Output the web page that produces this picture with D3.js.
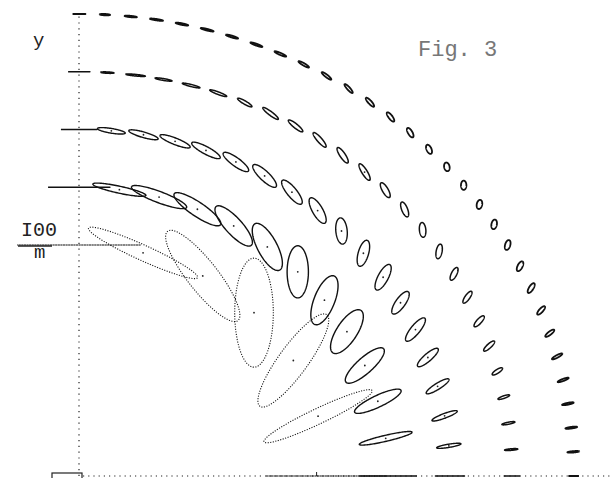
<!DOCTYPE html>
<html>
<head>
<meta charset="utf-8">
<script src="https://cdn.jsdelivr.net/npm/d3@7"></script>
<style>
  html, body { margin: 0; padding: 0; background: #fff; }
  svg { display: block; }
</style>
</head>
<body>
<svg id="fig"></svg>
<script>
// rings of test points, radius in metres
const RADII = [100, 125, 150, 175, 200]

// ring r = 100 m : bearing (deg), semi-major (m), semi-minor (m), tilt (deg)
const ang100 = [0, 15, 30, 45, 60, 75, 90]
const maj100 = [24.5, 24.5, 24, 23.6, 24, 24.5, 25]
const min100 = [0, 3.3, 6, 7.8, 6.3, 3.3, 0]
const tilt100 = [0, 27, 56, 90, 126, 154, 180]

// ring r = 125 m
const ang125 = [0, 7.5, 15, 22.5, 30, 37.5, 45, 52.5, 60, 67.5, 75, 82.5, 90]
const maj125 = [11.5, 11, 10.5, 10.5, 10.8, 11.2, 11.3, 11.2, 11, 11.5, 12, 11, 12.5]
const min125 = [0, 1.3, 2.5, 3.3, 4.2, 4.2, 4.3, 4, 3.5, 3, 2.4, 1.5, 0]
const tilt125 = [0, 14, 27, 44, 59, 70, 90, 116, 130, 144, 158, 167, 180]

// ring r = 150 m
const ang150 = [0, 5, 10, 15, 20, 25, 30, 35, 40, 45, 50, 55, 60, 65, 70, 75, 80, 85, 90]
const maj150 = [6, 5, 5.5, 5.5, 5.6, 6.2, 5.7, 6.1, 5.8, 5.7, 6.2, 6.4, 6.6, 6.4, 6.6, 6.6, 6.2, 5.7, 7.3]
const min150 = [0, 0.7, 1, 1.3, 1.6, 1.9, 2, 2.1, 2.1, 2.3, 2.1, 2, 2, 1.8, 1.6, 1.4, 1.2, 1, 0]
const tilt150 = [0, 10, 22, 34, 43, 53, 57, 64, 75, 95, 118, 127, 134, 142, 150, 157, 163, 170, 180]

// ring r = 175 m
const ang175 = [0, 3.75, 7.5, 11.25, 15, 18.75, 22.5, 26.25, 30, 33.75, 37.5, 41.25, 45,
  48.75, 52.5, 56.25, 60, 63.75, 67.5, 71.25, 75, 78.75, 82.5, 86.25, 90]
const maj175 = [3.2, 2.7, 2.7, 2.5, 2.5, 3, 3, 3, 3, 3.2, 3.2, 3.4, 3.6,
  4.1, 3.9, 4, 3.8, 4, 3.4, 3.7, 3.7, 3.5, 4, 2.7, 4.4]
const min175 = [0, 0.35, 0.45, 0.55, 0.8, 0.9, 1, 1, 1.1, 1.2, 1.3, 1.2, 1.2,
  1.1, 1.1, 1, 0.9, 0.8, 0.7, 0.55, 0.45, 0.4, 0.35, 0.3, 0]
const tilt175 = [0, 5, 12, 20, 35, 45, 50, 57, 65, 80, 95, 110, 118,
  120, 122, 129, 139, 141, 148, 158, 165, 170, 174, 177, 180]

// ring r = 200 m
const ang200 = [0, 3, 6, 9, 12, 15, 18, 21, 24, 27, 30, 33, 36, 39, 42, 45,
  48, 51, 54, 57, 60, 63, 66, 69, 72, 75, 78, 81, 84, 87, 90]
const maj200 = [2, 2.4, 2.4, 2.4, 2.4, 2.4, 2.3, 2.3, 2.4, 2.3, 2.2, 2.1, 2, 2, 1.9, 2.1,
  2.3, 2.4, 2.5, 2.5, 2.5, 2.5, 2.6, 2.6, 2.6, 2.7, 2.6, 2.7, 2.5, 2.1, 2.6]
const min200 = [0, 0.3, 0.35, 0.4, 0.45, 0.55, 0.7, 0.8, 0.9, 1, 1.05, 1.1, 1.1, 1.1, 1.1, 1,
  0.9, 0.8, 0.7, 0.6, 0.55, 0.5, 0.45, 0.4, 0.4, 0.35, 0.35, 0.3, 0.3, 0.3, 0]
const tilt200 = [0, 5, 8, 12, 22, 30, 40, 50, 60, 65, 75, 80, 80, 90, 100, 112,
  118, 125, 130, 130, 140, 148, 155, 159, 162, 165, 168, 171, 174, 177, 180]

const W = 612, H = 478

const svg = d3.select('#fig').attr('width', W).attr('height', H)

// plotter paper is a bit stretched in x
const x = d3.scaleLinear().domain([0, 200]).range([79, 574])
const y = d3.scaleLinear().domain([0, 200]).range([476, 14])

const rings = [
  {r: RADII[0], ang: ang100, maj: maj100, min: min100, tilt: tilt100},
  {r: RADII[1], ang: ang125, maj: maj125, min: min125, tilt: tilt125},
  {r: RADII[2], ang: ang150, maj: maj150, min: min150, tilt: tilt150},
  {r: RADII[3], ang: ang175, maj: maj175, min: min175, tilt: tilt175},
  {r: RADII[4], ang: ang200, maj: maj200, min: min200, tilt: tilt200}
]

let ellipses = []
rings.forEach(ring => {
  ring.ang.forEach((a, i) => {
    const th = a * Math.PI / 180
    ellipses.push({
      r: ring.r,
      cx: ring.r * Math.cos(th),
      cy: ring.r * Math.sin(th),
      a: ring.maj[i],
      b: ring.min[i],
      phi: ring.tilt[i] * Math.PI / 180,
      flat: ring.min[i] === 0
    })
  })
})

// axes, dotted like the plotter output
svg.append('line')
  .attr('x1', x(0)).attr('x2', x(0))
  .attr('y1', y(0)).attr('y2', y(200))
  .attr('stroke', '#222').attr('stroke-width', 1.2)
  .attr('stroke-dasharray', '1.2,4.6')

svg.append('line')
  .attr('x1', x(0) + 4).attr('x2', x(215))
  .attr('y1', y(0)).attr('y2', y(0))
  .attr('stroke', '#222').attr('stroke-width', 1.2)
  .attr('stroke-dasharray', '1.2,4')

svg.append('rect')
  .attr('x', x(0) - 27).attr('y', y(0) - 3)
  .attr('width', 30).attr('height', 8)
  .attr('fill', 'none').attr('stroke', '#222').attr('stroke-width', 1.2)

svg.append('line')
  .attr('x1', x(96)).attr('x2', x(96))
  .attr('y1', y(0) - 4).attr('y2', y(0))
  .attr('stroke', '#222').attr('stroke-width', 1)

// ellipse outline as a polyline through the scales
function ellipsePath(e) {
  const pts = []
  const n = 120
  for (let k = 0; k <= n; k++) {
    const t = 2 * Math.PI * k / n
    const dx = e.a * Math.cos(t) * Math.cos(e.phi) - e.b * Math.sin(t) * Math.sin(e.phi)
    const dy = e.a * Math.cos(t) * Math.sin(e.phi) + e.b * Math.sin(t) * Math.cos(e.phi)
    pts.push([x(e.cx + dx), y(e.cy + dy)])
  }
  return d3.line()(pts)
}

const strokeW = {100: 1.1, 125: 1.4, 150: 1.4, 175: 1.5, 200: 1.8}

const g = svg.append('g')

g.selectAll('path.ell')
  .data(ellipses)
  .join('path')
  .attr('class', 'ell')
  .attr('d', ellipsePath)
  .attr('fill', 'none')
  .attr('stroke', '#111')
  .attr('stroke-width', d => strokeW[d.r])
  .attr('stroke-linejoin', 'round')
  .each(function(d) {
    // fixed number of plotted points per ellipse -> big ones come out dotted
    const len = this.getTotalLength()
    const step = len / 95
    const dash = 1.1
    if (step > dash + 0.6) {
      d3.select(this).attr('stroke-dasharray', `${dash},${step - dash}`)
    }
  })

// centre marks
g.selectAll('circle.ctr')
  .data(ellipses.filter(e => !e.flat && e.a > 4))
  .join('circle')
  .attr('class', 'ctr')
  .attr('cx', d => x(d.cx))
  .attr('cy', d => y(d.cy))
  .attr('r', 0.9)
  .attr('fill', '#222')

// labels
const font = '"Liberation Mono", "DejaVu Sans Mono", monospace'

svg.append('text')
  .attr('x', 33).attr('y', 46)
  .attr('font-family', font).attr('font-size', 19)
  .attr('fill', '#222')
  .text('y')

svg.append('text')
  .attr('x', 21).attr('y', 236)
  .attr('font-family', font).attr('font-size', 20)
  .attr('fill', '#222')
  .text('I00')

svg.append('line')
  .attr('x1', 18).attr('x2', 52)
  .attr('y1', y(100) + 1).attr('y2', y(100) + 1)
  .attr('stroke', '#222').attr('stroke-width', 1.3)

svg.append('text')
  .attr('x', 34).attr('y', 258)
  .attr('font-family', font).attr('font-size', 19)
  .attr('fill', '#222')
  .text('m')

svg.append('text')
  .attr('x', 418).attr('y', 56)
  .attr('font-family', font).attr('font-size', 22)
  .attr('fill', '#777')
  .text('Fig. 3')
</script>
</body>
</html>
